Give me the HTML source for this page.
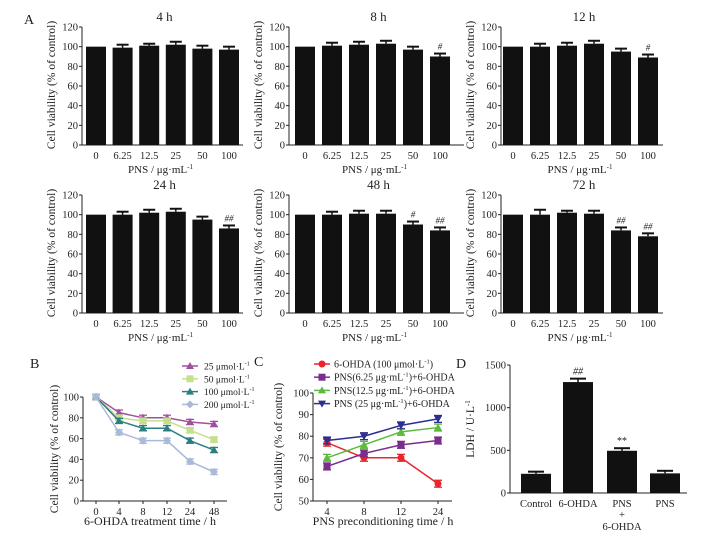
<!DOCTYPE html>
<html><head><meta charset="utf-8"><style>
html,body{margin:0;padding:0;background:#fff;}
svg{display:block;font-family:"Liberation Serif",serif;}
text{fill:#222;}
</style></head><body>
<svg id="fig" width="727" height="534" viewBox="0 0 727 534"></svg>
<script>
// Panel A data
const doses = ["0","6.25","12.5","25","50","100"];
const aTitles = ["4 h","8 h","12 h","24 h","48 h","72 h"];
const v4 = [100,99,101,102,98,97];
const v8 = [100,101,102,103,97,90];
const v12 = [100,100,101,103,95,89];
const v24 = [100,100,102,103,95,86];
const v48 = [100,100,101,101,90,84];
const v72 = [100,100,102,101,84,78];
const e4 = [0,3,2,3,3,3];
const e8 = [0,3,3,3,3,3];
const e12 = [0,3,3,3,3,3];
const e24 = [0,3,3,3,3,3];
const e48 = [0,3,3,3,3,3];
const e72 = [0,5,2,3,3,3];
const m8 = ["","","","","","#"];
const m12 = ["","","","","","#"];
const m24 = ["","","","","","##"];
const m48 = ["","","","","#","##"];
const m72 = ["","","","","##","##"];
const m4 = ["","","","","",""];
const aTicks = [0,20,40,60,80,100,120];
// Panel B data
const bTimes = ["0","4","8","12","24","48"];
const b25 = [100,85,80,80,76,74];
const b50 = [100,80,77,77,68,59];
const b100 = [100,77,70,70,58,49];
const b200 = [100,66,58,58,38,28];
const bLabels = ["25 μmol·L","50 μmol·L","100 μmol·L","200 μmol·L"];
const bTicks = [0,20,40,60,80,100];
// Panel C data
const cTimes = ["4","8","12","24"];
const cOhda = [77,70,70,58];
const c625 = [66,72,76,78];
const c125 = [70,76,82,84];
const c25 = [78,80,85,88];
const cTicks = [50,60,70,80,90,100];
// Panel D data
const dCats = ["Control","6-OHDA","PNS","PNS"];
const dVals = [225,1300,495,230];
const dErr = [25,40,30,30];
const dMarks = ["","##","**",""];
const dTicks = [0,500,1000,1500];

const NS="http://www.w3.org/2000/svg";
const svg=document.getElementById('fig');
function el(tag,attrs,parent){const e=document.createElementNS(NS,tag);for(const k in attrs)e.setAttribute(k,attrs[k]);(parent||svg).appendChild(e);return e;}
function txt(s,x,y,size,anchor,parent,extra){const t=el('text',Object.assign({x:x,y:y,'font-size':size,'text-anchor':anchor||'middle'},extra||{}),parent);t.textContent=s;return t;}

// letters
[["A",24,24],["B",30,368],["C",254,366],["D",456,368]].forEach(l=>{
 const t=txt(l[0],l[1],l[2],14,'start');
 
 
});

// Panel A charts
const aVals=[v4,v8,v12,v24,v48,v72], aErrs=[e4,e8,e12,e24,e48,e72], aMarks=[m4,m8,m12,m24,m48,m72];
const colX=[[82,96,26.6,243],[289,305,27,464],[501,513,27,663]];
const rowY=[145,313];
for(let i=0;i<6;i++){
 const c=colX[i%3], y0=rowY[Math.floor(i/3)];
 const g=el('g',{});
 
 
 const ys=v=>y0-v*(118/120);
 el('line',{x1:c[0],y1:y0,x2:c[3],y2:y0,stroke:'#222','stroke-width':1},g);
 el('line',{x1:c[0],y1:ys(120),x2:c[0],y2:y0,stroke:'#222','stroke-width':1},g);
 aTicks.forEach(t=>{el('line',{x1:c[0]-3,y1:ys(t),x2:c[0],y2:ys(t),stroke:'#222'},g);txt(String(t),c[0]-4,ys(t)+3.5,10.5,'end',g);});
 const xs=k=>c[1]+k*c[2];
 doses.forEach((d,k)=>{
  txt(d,xs(k),y0+14,10.5,'middle',g);
  const b=el('rect',{x:xs(k)-10,y:ys(aVals[i][k]),width:20,height:y0-ys(aVals[i][k]),fill:'#111'},g);
  
  
  const e=aErrs[i][k];
  if(e>0){const ty=ys(aVals[i][k]+e);
   el('line',{x1:xs(k),y1:ty,x2:xs(k),y2:ys(aVals[i][k]),stroke:'#111','stroke-width':1.5},g);
   el('line',{x1:xs(k)-6,y1:ty,x2:xs(k)+6,y2:ty,stroke:'#111','stroke-width':2},g);}
  if(aMarks[i][k]){txt(aMarks[i][k],xs(k),ys(aVals[i][k]+e)-4,9,'middle',g,{'font-style':'italic'});}
 });
 txt(aTitles[i],(c[0]+c[3])/2+2,y0-124,13,'middle',g);
 const mx=(c[0]+c[3])/2+2;
 const xt=txt('PNS / μg·mL',mx-4,y0+28,11,'middle',g);
 const sup=el('tspan',{dy:-4,'font-size':7},xt);sup.textContent='-1';
 txt('Cell viability (% of control)',0,0,11.5,'middle',g,{transform:`translate(${c[0]-27},${y0-60}) rotate(-90)`});
}

function lineChart(name,ax,y0,y1,vmin,vmax,xEnd,xcats,xpos,ticks,series,colors,markers,errs,title,tx,ty,ytx){
 const g=el('g',{});
 
 
 const ys=v=>y0-(v-vmin)*(y0-y1)/(vmax-vmin);
 el('line',{x1:ax,y1:y0,x2:xEnd,y2:y0,stroke:'#222'},g);
 el('line',{x1:ax,y1:y1,x2:ax,y2:y0,stroke:'#222'},g);
 ticks.forEach(t=>{el('line',{x1:ax-3,y1:ys(t),x2:ax,y2:ys(t),stroke:'#222'},g);txt(String(t),ax-4,ys(t)+3.5,10.5,'end',g);});
 xcats.forEach((c,k)=>{el('line',{x1:xpos(k),y1:y0,x2:xpos(k),y2:y0+3,stroke:'#222'},g);txt(c,xpos(k),y0+14,10.5,'middle',g);});
 series.forEach((s,si)=>{
  const sg=el('g',{},g);
  
  
  const pts=s.map((v,k)=>xpos(k)+','+ys(v)).join(' ');
  el('polyline',{points:pts,fill:'none',stroke:colors[si],'stroke-width':1.5},sg);
  s.forEach((v,k)=>{
   const x=xpos(k),y=ys(v),e=errs;
   el('line',{x1:x,y1:ys(v+e),x2:x,y2:ys(v-e),stroke:colors[si],'stroke-width':1.3},sg);
   el('line',{x1:x-4,y1:ys(v+e),x2:x+4,y2:ys(v+e),stroke:colors[si],'stroke-width':1.3},sg);
   el('line',{x1:x-4,y1:ys(v-e),x2:x+4,y2:ys(v-e),stroke:colors[si],'stroke-width':1.3},sg);
   drawMarker(markers[si],x,y,colors[si],sg);
  });
 });
 txt(title,tx,ty,12,'middle',g);
 txt('Cell viability (% of control)',0,0,11.5,'middle',g,{transform:`translate(${ytx},${(y0+y1)/2}) rotate(-90)`});
 return g;
}
function drawMarker(m,x,y,c,g){
 if(m==='tri')el('polygon',{points:`${x},${y-4} ${x-4},${y+3} ${x+4},${y+3}`,fill:c},g);
 else if(m==='itri')el('polygon',{points:`${x},${y+4} ${x-4},${y-3} ${x+4},${y-3}`,fill:c},g);
 else if(m==='sq')el('rect',{x:x-3.5,y:y-3.5,width:7,height:7,fill:c},g);
 else if(m==='dia')el('polygon',{points:`${x},${y-4} ${x+4},${y} ${x},${y+4} ${x-4},${y}`,fill:c},g);
 else el('circle',{cx:x,cy:y,r:3.5,fill:c},g);
}

// Panel B
const bCols=['#a0509e','#c6df8e','#2a7f80','#a9b9d8'];
const bMk=['tri','sq','tri','dia'];
const bx=[96,119,143,167,190,214];
lineChart('chart-b',83,501,397,0,100,227,bTimes,k=>bx[k],bTicks,[b25,b50,b100,b200],bCols,bMk,2.5,'6-OHDA treatment time / h',150,525,58);
bLabels.forEach((l,i)=>{
 const y=366+i*12.8;
 el('line',{x1:182,y1:y,x2:198,y2:y,stroke:bCols[i],'stroke-width':1.5});
 drawMarker(bMk[i],190,y,bCols[i],svg);
 const t=txt(l,204,y+3.5,9.5,'start');
 
 
 const s=el('tspan',{dy:-4,'font-size':6},t);s.textContent='-1';
});

// Panel C
const cCols=['#e8262b','#7b2d8e','#5cbb3c','#2e2e8f'];
const cMk=['circ','sq','tri','itri'];
const cx=[327,364,401,438];
lineChart('chart-c',313,501,393,50,100,452,cTimes,k=>cx[k],cTicks,[cOhda,c625,c125,c25],cCols,cMk,1.6,'PNS preconditioning time / h',383,525,282);
const cLeg=[["6-OHDA (100 μmol·L","-1",")"],["PNS(6.25 μg·mL","-1",")+6-OHDA"],["PNS(12.5 μg·mL","-1",")+6-OHDA"],["PNS (25 μg·mL","-1",")+6-OHDA"]];
cLeg.forEach((l,i)=>{
 const y=364+i*13.2;
 el('line',{x1:314,y1:y,x2:330,y2:y,stroke:cCols[i],'stroke-width':1.5});
 drawMarker(cMk[i],322,y,cCols[i],svg);
 const t=txt(l[0],334,y+3.5,10,'start');
 
 
 const s=el('tspan',{dy:-4,'font-size':6.5},t);s.textContent=l[1];
 const s2=el('tspan',{dy:4},t);s2.textContent=l[2];
});

// Panel D
(function(){
 const g=el('g',{});
 
 
 const ax=510,y0=493,y1=365,ys=v=>y0-v*(y0-y1)/1500;
 const xc=[536,578,622,665];
 el('line',{x1:ax,y1:y0,x2:687,y2:y0,stroke:'#222'},g);
 el('line',{x1:ax,y1:y1,x2:ax,y2:y0,stroke:'#222'},g);
 dTicks.forEach(t=>{el('line',{x1:ax-3,y1:ys(t),x2:ax,y2:ys(t),stroke:'#222'},g);txt(String(t),ax-4,ys(t)+3.5,10.5,'end',g);});
 dVals.forEach((v,k)=>{
  const b=el('rect',{x:xc[k]-15,y:ys(v),width:30,height:y0-ys(v),fill:'#111'},g);
  
  
  const ty=ys(v+dErr[k]);
  el('line',{x1:xc[k],y1:ty,x2:xc[k],y2:ys(v),stroke:'#111','stroke-width':1.5},g);
  el('line',{x1:xc[k]-8,y1:ty,x2:xc[k]+8,y2:ty,stroke:'#111','stroke-width':2},g);
  if(dMarks[k])txt(dMarks[k],xc[k],ty-4,10,'middle',g,{'font-style':dMarks[k]==='##'?'italic':'normal'});
  txt(dCats[k],xc[k],y0+14,10.5,'middle',g);
 });
 txt('+',xc[2],y0+25,10.5,'middle',g);
 txt('6-OHDA',xc[2],y0+37,10.5,'middle',g);
 const yt=txt('LDH / U·L',0,0,11.5,'middle',g,{transform:`translate(474,${(y0+y1)/2}) rotate(-90)`});
 const s=el('tspan',{dy:-4,'font-size':7},yt);s.textContent='-1';
})();
</script>
</body></html>
